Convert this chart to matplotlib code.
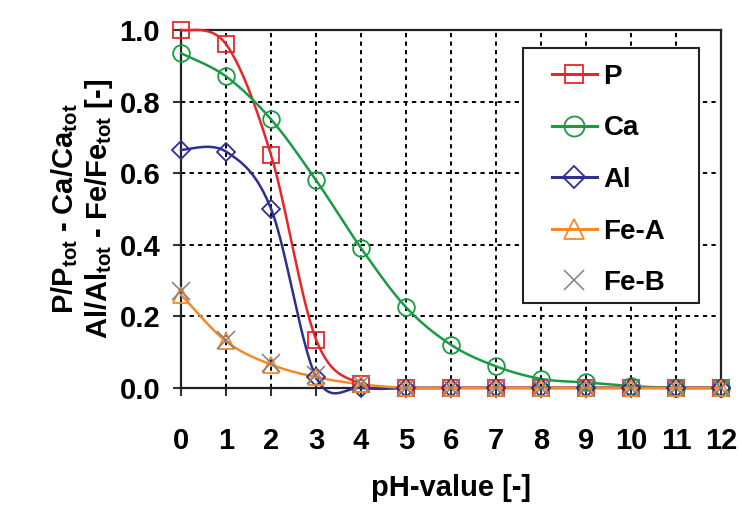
import numpy as np
import matplotlib
matplotlib.use("Agg")
import matplotlib.pyplot as plt
from matplotlib.lines import Line2D
from matplotlib.patches import Rectangle

plt.rcParams['font.family'] = ['Liberation Sans', 'DejaVu Sans']
plt.rcParams['font.weight'] = 'bold'
plt.rcParams['mathtext.fontset'] = 'custom'
plt.rcParams['mathtext.rm'] = 'Liberation Sans:bold'
plt.rcParams['mathtext.bf'] = 'Liberation Sans:bold'
plt.rcParams['mathtext.it'] = 'Liberation Sans:bold'

ph = [0, 1, 2, 3, 4, 5, 6, 7, 8, 9, 10, 11, 12]
p_vals = [1.0, 0.96, 0.65, 0.135, 0.01, 0.0, 0.0, 0.0, 0.0, 0.0, 0.0, 0.0, 0.0]
ca_vals = [0.935, 0.87, 0.75, 0.58, 0.39, 0.225, 0.12, 0.06, 0.025, 0.015, 0.005, 0.0, 0.0]
al_vals = [0.665, 0.66, 0.50, 0.03, 0.0, 0.0, 0.0, 0.0, 0.0, 0.0, 0.0, 0.0, 0.0]
fea_vals = [0.26, 0.13, 0.065, 0.03, 0.01, 0.0, 0.0, 0.0, 0.0, 0.0, 0.0, 0.0, 0.0]
feb_vals = [0.27, 0.135, 0.07, 0.035, 0.012, 0.0, 0.0, 0.0, 0.0, 0.0, 0.0, 0.0, 0.0]
x_ticks = [0, 1, 2, 3, 4, 5, 6, 7, 8, 9, 10, 11, 12]
y_ticks = [0.0, 0.2, 0.4, 0.6, 0.8, 1.0]


def smooth(x, y, n=30):
    """Excel-style smoothed line (Bezier through the points)."""
    P = np.column_stack([x, y]).astype(float)
    m = len(P)
    out = []
    for i in range(m - 1):
        p0 = P[i - 1] if i > 0 else P[i]
        p1 = P[i]
        p2 = P[i + 1]
        p3 = P[i + 2] if i + 2 < m else P[i + 1]
        c1 = p1 + (p2 - p0) / 6.0
        c2 = p2 - (p3 - p1) / 6.0
        t = np.linspace(0, 1, n)[:, None]
        seg = ((1 - t) ** 3) * p1 + 3 * ((1 - t) ** 2) * t * c1 + 3 * (1 - t) * t ** 2 * c2 + t ** 3 * p2
        out.append(seg if i == 0 else seg[1:])
    s = np.vstack(out)
    return s[:, 0], s[:, 1]


fig = plt.figure(figsize=(7.42, 5.07), dpi=100)
ax = fig.add_axes([0.244, 0.235, 0.728, 0.706])

series = [
    ("P", p_vals, '#e8262a', 's', 11),
    ("Ca", ca_vals, '#1a9a45', 'o', 12),
    ("Al", al_vals, '#2e2f8f', 'D', 9),
    ("Fe-A", fea_vals, '#f5892a', '^', 12),
]

handles = []
for name, vals, col, mk, ms in series:
    sx, sy = smooth(ph, vals)
    ax.plot(sx, sy, color=col, lw=1.8, zorder=3, clip_on=False)
    ax.plot(ph, vals, ls='none', marker=mk, ms=ms, mfc='none', mec=col, mew=1.3,
            zorder=4, clip_on=False)
    handles.append(Line2D([], [], color=col, lw=2.2, marker=mk, ms=ms * 1.2, mfc='none',
                          mec=col, mew=1.3, label=name))

ax.plot(ph, feb_vals, ls='none', marker='x', ms=13, mec='#808080', mew=1.1, zorder=5,
        clip_on=False)
handles.append(Line2D([], [], ls='none', marker='x', ms=14, mec='#808080', mew=1.1,
                      label='Fe-B'))

ax.set_xlim(0, 12)
ax.set_ylim(0, 1.0)
ax.set_xticks(x_ticks)
ax.set_yticks(y_ticks)
ax.set_yticklabels([f"{v:.1f}" for v in y_ticks])
ax.tick_params(axis='both', labelsize=21, direction='out', length=6, width=1.5,
               color='#333333')
ax.tick_params(axis='x', pad=22)
ax.tick_params(axis='y', pad=9)
for lab in ax.get_xticklabels() + ax.get_yticklabels():
    lab.set_fontweight('bold')
ax.grid(True, color='black', ls=(0, (2.2, 2.2)), lw=1.4, zorder=1)
for sp in ax.spines.values():
    sp.set_linewidth(1.6)
    sp.set_color('#222222')

ax.set_xlabel('pH-value [-]', fontsize=21, fontweight='bold', labelpad=14)
ax.set_ylabel('P/P$_{\\rm tot}$ - Ca/Ca$_{\\rm tot}$\nAl/Al$_{\\rm tot}$ - Fe/Fe$_{\\rm tot}$ [-]',
              fontsize=21, fontweight='bold', labelpad=3, linespacing=1.15)

# legend box
box = Rectangle((0.633, 0.237), 0.326, 0.713, transform=ax.transAxes,
                facecolor='white', edgecolor='#222222', lw=1.5, zorder=6)
ax.add_patch(box)
leg = ax.legend(handles=handles, loc='upper left', bbox_to_anchor=(0.687, 0.905),
                frameon=False, prop={'size': 20, 'weight': 'bold'}, labelspacing=0.92,
                handlelength=1.6, handletextpad=0.25, borderpad=0,
                borderaxespad=0)
leg.set_zorder(7)

fig.savefig('out.png', dpi=100)
